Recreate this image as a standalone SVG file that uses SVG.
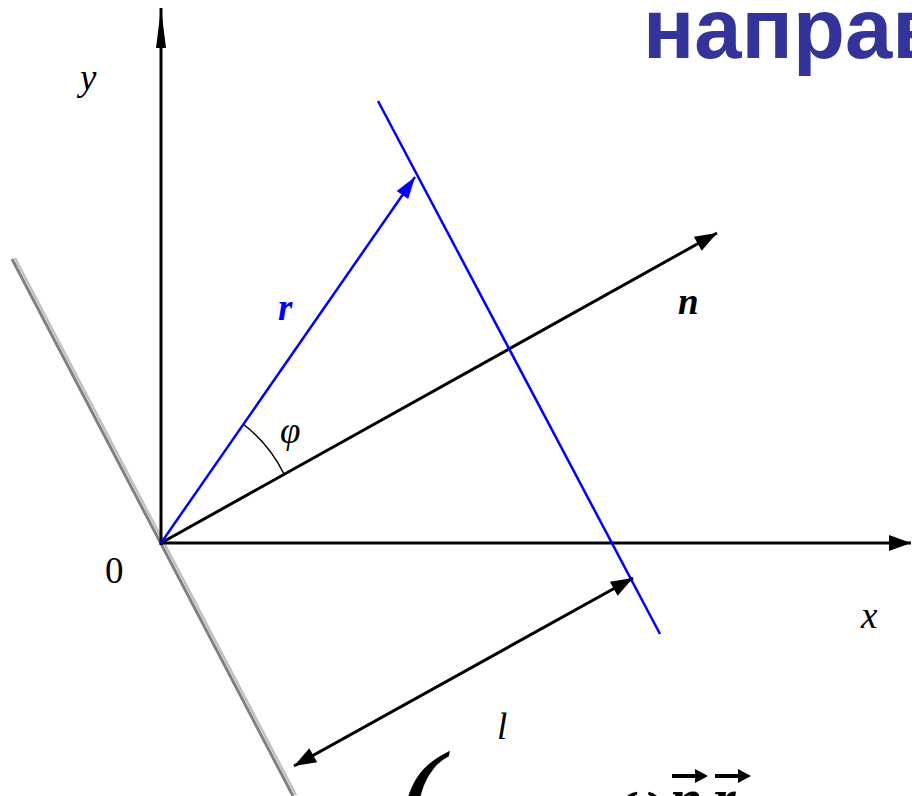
<svg xmlns="http://www.w3.org/2000/svg" width="912" height="796" viewBox="0 0 912 796">
<style>
.ax{stroke:#000;stroke-width:3;fill:none}
.lbl{font-family:"Liberation Serif",serif;font-style:italic;font-size:37px;fill:#000}
.vec{font-family:"Liberation Serif",serif;font-style:italic;font-weight:bold;font-size:37px}
.fm{font-family:"Liberation Serif",serif;font-style:italic;font-weight:bold;font-size:58px;fill:#000}
</style>
<defs>
<marker id="ah" markerUnits="userSpaceOnUse" markerWidth="24" markerHeight="18" viewBox="-23 -9 24 18" refX="0" refY="0" orient="auto-start-reverse"><path d="M0,0 L-22,-8 L-22,8 Z" fill="#000"/></marker>
<marker id="ahy" markerUnits="userSpaceOnUse" markerWidth="42" markerHeight="12" viewBox="-41 -6 42 12" refX="0" refY="0" orient="auto"><path d="M0,0 L-40,-5 L-40,5 Z" fill="#000"/></marker>
<marker id="ahb" markerUnits="userSpaceOnUse" markerWidth="24" markerHeight="16" viewBox="-23 -8 24 16" refX="0" refY="0" orient="auto"><path d="M0,0 L-22,-7 L-22,7 Z" fill="#0000ff"/></marker>
</defs>
<text x="643" y="58" font-family="Liberation Sans,Arial,sans-serif" font-weight="bold" font-size="85" fill="#333399">направ</text>
<g id="plane">
<line x1="12" y1="259" x2="293" y2="796" stroke="#808080" stroke-width="3"/>
<line x1="15" y1="258" x2="296" y2="795" stroke="#c0c0c0" stroke-width="2.5"/>
</g>
<g id="connectors">
<line id="y-axis" class="ax" x1="161" y1="545" x2="161" y2="8" marker-end="url(#ahy)"/>
<line id="x-axis" class="ax" x1="161" y1="543" x2="911" y2="543" marker-end="url(#ah)"/>
<line id="n-vec" class="ax" x1="161" y1="543" x2="717" y2="233" marker-end="url(#ah)"/>
<line id="r-vec" x1="161" y1="543" x2="415" y2="177" stroke="#0000ff" stroke-width="2.5" marker-end="url(#ahb)"/>
<line id="line-l" x1="378" y1="101" x2="660" y2="634" stroke="#0000ff" stroke-width="2.5"/>
<line id="dist" class="ax" x1="294" y1="766" x2="633" y2="578" marker-start="url(#ah)" marker-end="url(#ah)"/>
<path id="angle" d="M243,424 A142,142 0 0 1 284,474" stroke="#000" stroke-width="1.5" fill="none"/>
</g>
<g id="labels">
<text class="lbl" x="80" y="90">y</text>
<text class="lbl" x="861" y="628">x</text>
<text x="105" y="583" font-family="Liberation Serif,serif" font-size="37">0</text>
<text class="vec" x="278" y="320" fill="#0000ff">r</text>
<text class="vec" x="678" y="314" fill="#000">n</text>
<text class="lbl" x="280" y="443" font-size="40">φ</text>
<text class="lbl" x="497" y="739">l</text>
</g>
<g id="formula">
<text x="398" y="845" font-family="Liberation Serif,serif" font-style="italic" font-size="135">(</text>
<text class="fm" x="620" y="818">ω</text>
<text class="fm" x="670" y="818">n</text>
<text class="fm" x="713" y="818">r</text>
<line x1="672" y1="776" x2="697" y2="776" stroke="#000" stroke-width="4"/>
<path d="M708,776 L695,769 L695,783 Z" fill="#000"/>
<line x1="715" y1="776" x2="740" y2="776" stroke="#000" stroke-width="4"/>
<path d="M751,776 L738,769 L738,783 Z" fill="#000"/>
</g>
</svg>
